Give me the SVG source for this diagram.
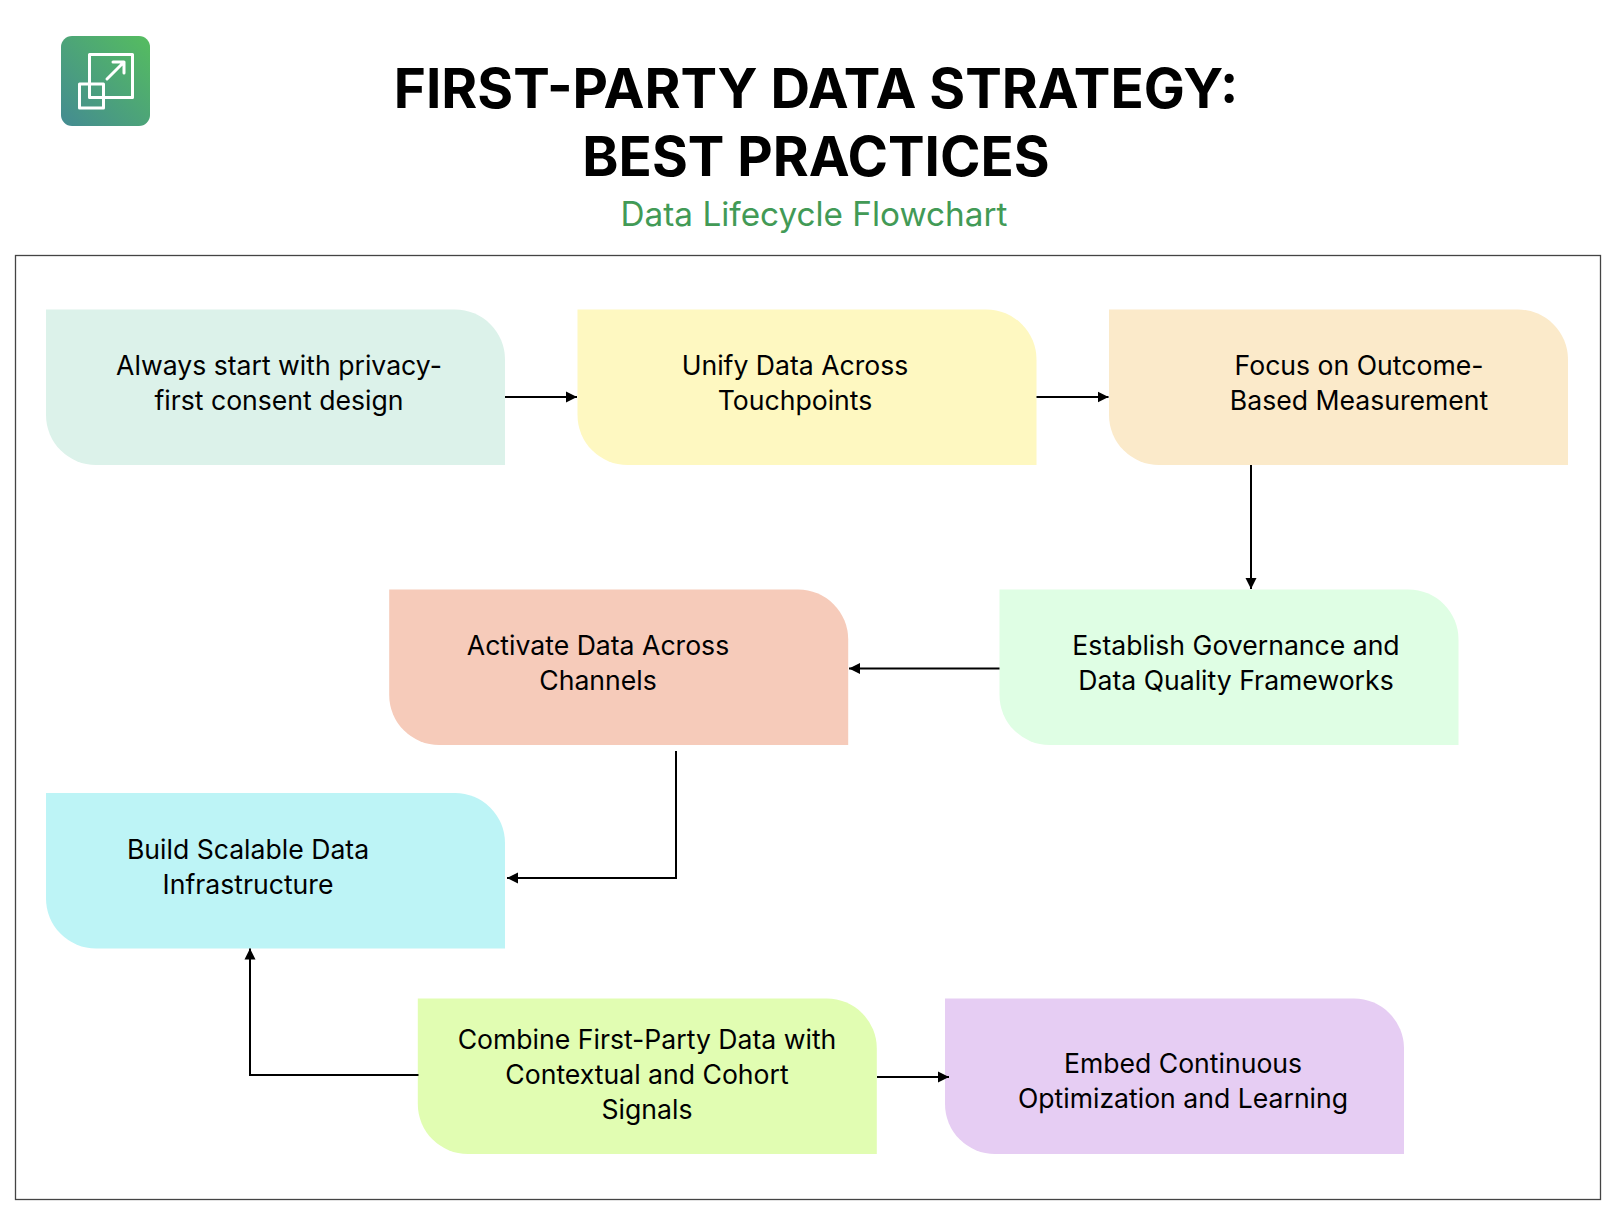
<svg xmlns="http://www.w3.org/2000/svg" width="1616" height="1226" viewBox="0 0 1616 1226">
<style>
text{font-family:Inter,"Liberation Sans",sans-serif;text-anchor:middle}
.t{font-size:54.8px;font-weight:700;fill:#000}
.s{font-size:33.300px;fill:#429a56;font-weight:400}
.n{font-size:26.600px;fill:#000;font-weight:400}
.c{fill:none;stroke:#000;stroke-width:2;marker-end:url(#a)}
.i{fill:none;stroke:#fff;stroke-width:3;stroke-linejoin:round;stroke-linecap:round}
</style>
<defs>
<marker id="a" markerUnits="userSpaceOnUse" markerWidth="12" markerHeight="12" refX="11" refY="6" orient="auto"><path d="M0 0.500L11 6L0 11.500Z" fill="#000"/></marker>
<linearGradient id="g" x1="0" y1="1" x2="1" y2="0"><stop offset="0" stop-color="#448b92"/><stop offset="1" stop-color="#55bd5f"/></linearGradient>
<path id="b" d="M0 0H409A50 50 0 0 1 459 50V155.500H50A50 50 0 0 1 0 105.500Z"/>
</defs>
<rect width="1616" height="1226" fill="#fff"/>
<g id="logo"><rect x="61" y="36" width="89" height="90" rx="11" fill="url(#g)"/>
<rect class="i" x="89.500" y="54.500" width="43" height="43"/><rect class="i" x="79.500" y="84" width="24" height="24"/><path class="i" d="M107 79L124 62M113 62H124V73"/></g>
<g id="title"><text class="t" x="816" y="108">FIRST-PARTY DATA STRATEGY:</text><text class="t" x="816" y="176">BEST PRACTICES</text><text class="s" x="814" y="226.400">Data Lifecycle Flowchart</text></g>
<rect id="frame" x="15.500" y="255.500" width="1585" height="944" fill="none" stroke="#444" stroke-width="1.300"/>
<g id="n1"><use href="#b" x="46" y="309.500" fill="#dcf2ea"/><text class="n" x="279" y="375.400">Always start with privacy-</text><text class="n" x="279" y="410.400">first consent design</text></g>
<g id="n2"><use href="#b" x="577.500" y="309.500" fill="#fef8c1"/><text class="n" x="795" y="375.400">Unify Data Across</text><text class="n" x="795" y="410.400">Touchpoints</text></g>
<g id="n3"><use href="#b" x="1109" y="309.500" fill="#fbeaca"/><text class="n" x="1359" y="375.400">Focus on Outcome-</text><text class="n" x="1359" y="410.400">Based Measurement</text></g>
<g id="n4"><use href="#b" x="999.500" y="589.500" fill="#dffee4"/><text class="n" x="1236" y="655.400">Establish Governance and</text><text class="n" x="1236" y="690.400">Data Quality Frameworks</text></g>
<g id="n5"><use href="#b" x="389.200" y="589.500" fill="#f6cbba"/><text class="n" x="598" y="655.400">Activate Data Across</text><text class="n" x="598" y="690.400">Channels</text></g>
<g id="n6"><use href="#b" x="46" y="793" fill="#bdf4f6"/><text class="n" x="248" y="859.400">Build Scalable Data</text><text class="n" x="248" y="894.400">Infrastructure</text></g>
<g id="n7"><use href="#b" x="417.800" y="998.500" fill="#e1fdb2"/><text class="n" x="647" y="1049.400">Combine First-Party Data with</text><text class="n" x="647" y="1084.400">Contextual and Cohort</text><text class="n" x="647" y="1119.400">Signals</text></g>
<g id="n8"><use href="#b" x="945" y="998.500" fill="#e6cdf3"/><text class="n" x="1183" y="1073.400">Embed Continuous</text><text class="n" x="1183" y="1108.400">Optimization and Learning</text></g>
<g id="connectors">
<path class="c" d="M505 397H577"/><path class="c" d="M1036.500 397H1108.500"/><path class="c" d="M1251 465V589"/><path class="c" d="M999.500 668.500H849"/><path class="c" d="M676 751V878H507"/><path class="c" d="M418.500 1075H250V948.500"/><path class="c" d="M877 1077H949"/>
</g>
</svg>
